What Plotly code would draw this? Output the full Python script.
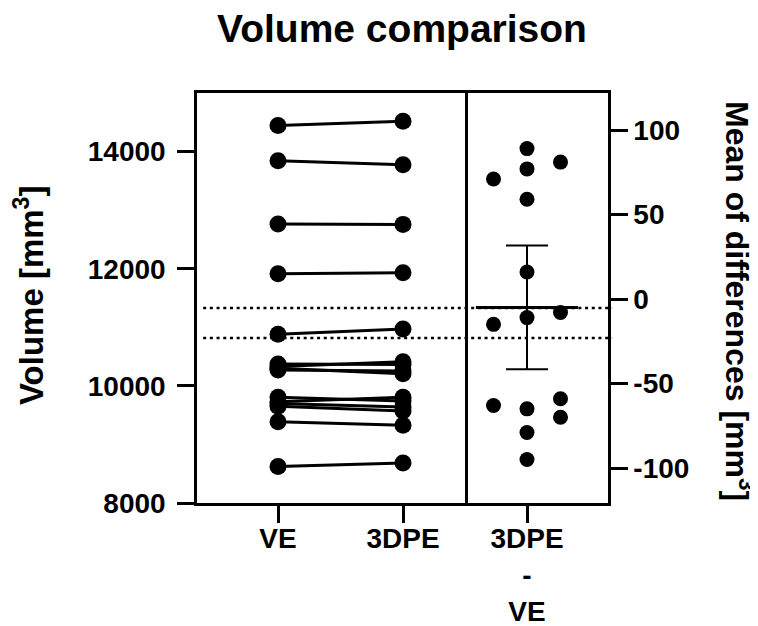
import plotly.graph_objects as go

# ---------------- data ----------------
categories = ["VE", "3DPE"]
ve_values = [14445, 13845, 12765, 11915, 10880, 10375, 10330, 10300, 10270,
             9805, 9730, 9700, 9650, 9388, 8625]
dpe_values = [14516, 13775, 12757, 11931, 10969, 10364, 10411, 10205, 10255,
              9740, 9807, 9637, 9571, 9329, 8684]

diff_label = "3DPE<br>-<br>VE"
diff_values = [89, 77, 71, 81, 59, 16, -11, -15, -8, -63, -65, -59, -70, -79, -95]
diff_columns = [0, 0, -1, 1, 0, 0, 0, -1, 1, -1, 0, 1, 1, 0, 0]
diff_mean = -5.0
diff_ci_upper = 31.7
diff_ci_lower = -41.5
ref_lines = [-5.3, -23.0]

left_ticks = [8000, 10000, 12000, 14000]
left_ticktext = ["8000", "10000", "12000", "14000"]
right_ticks = [-100, -50, 0, 50, 100]
right_ticktext = ["-100", "-50", "0", "50", "100"]

# ---------------- figure ----------------
FONT = "Liberation Sans, Arial, sans-serif"
W, H = 750, 618   # page body adds an 8px margin
L, R, T, B = 189, 150, 85, 123
PW, PH = W - L - R, H - T - B

fig = go.Figure()

xpos = list(range(len(categories)))
for v, d in zip(ve_values, dpe_values):
    fig.add_trace(go.Scatter(
        x=xpos, y=[v, d], mode="lines+markers",
        line=dict(color="black", width=3),
        marker=dict(color="black", size=17),
        xaxis="x", yaxis="y", showlegend=False, hoverinfo="skip"))

fig.add_trace(go.Scatter(
    x=diff_columns, y=diff_values, mode="markers",
    marker=dict(color="black", size=15),
    xaxis="x2", yaxis="y2", showlegend=False))

# error bar (95% CI)
fig.add_trace(go.Scatter(
    x=[0], y=[diff_mean], mode="markers",
    marker=dict(color="rgba(0,0,0,0)", size=1),
    error_y=dict(type="data", symmetric=False,
                 array=[diff_ci_upper - diff_mean],
                 arrayminus=[diff_mean - diff_ci_lower],
                 color="black", thickness=2, width=21),
    xaxis="x2", yaxis="y2", showlegend=False))
# mean line
fig.add_trace(go.Scatter(
    x=[0], y=[diff_mean], mode="markers",
    marker=dict(symbol="line-ew", size=73, color="black",
                line=dict(color="black", width=3)),
    xaxis="x2", yaxis="y2", showlegend=False))

for r in ref_lines:
    fig.add_shape(type="line", xref="paper", yref="y2",
                  x0=0.015, x1=1.01, y0=r, y1=r, layer="below",
                  line=dict(color="black", width=2.5, dash="3px,3.7px"))

split = (465 - 197) / 411
tickfont = dict(family=FONT, size=28, color="black", weight="bold")
axis_common = dict(showline=True, linecolor="black", linewidth=2.5,
                   ticks="outside", ticklen=17, tickwidth=2.5,
                   tickcolor="black", showgrid=False, zeroline=False,
                   automargin=False, tickfont=tickfont)

fig.update_layout(
    width=W, height=H,
    margin=dict(l=L, r=R, t=T, b=B),
    paper_bgcolor="white", plot_bgcolor="white",
    title=dict(text="Volume comparison", x=394 / W, y=1 - 20 / H,
               xanchor="center", yanchor="middle", xref="container",
               yref="container",
               font=dict(family=FONT, size=39, color="black", weight="bold")),
    xaxis=dict(domain=[0, split], range=[-0.648, 1.496], mirror=True,
               tickvals=xpos, ticktext=categories, anchor="y",
               ticklabelstandoff=-8, **axis_common),
    yaxis=dict(range=[8000, 15000], tickvals=left_ticks,
               ticktext=left_ticktext, anchor="x", mirror=True,
               ticklabelstandoff=6, **axis_common),
    xaxis2=dict(domain=[split, 1], range=[-1.851, 2.418], mirror=True,
                tickvals=[0], ticktext=[diff_label], anchor="y2",
                ticklabelstandoff=-8, **axis_common),
    yaxis2=dict(range=[-120.7, 121.9], tickvals=right_ticks,
                ticktext=right_ticktext, anchor="x2", mirror=False,
                side="right", **axis_common),
)

fig.add_annotation(text="Volume [mm<sup>3</sup>]", xref="paper", yref="paper",
                   x=(21 - L) / PW, y=(H - B - 288) / PH, textangle=-90,
                   showarrow=False, xanchor="center", yanchor="middle",
                   font=dict(family=FONT, size=33, color="black", weight="bold"))
fig.add_annotation(text="Mean of differences [mm<sup>3</sup>]", xref="paper",
                   yref="paper", x=(731 - L) / PW, y=(H - B - 293) / PH,
                   textangle=90, showarrow=False, xanchor="center",
                   yanchor="middle",
                   font=dict(family=FONT, size=32, color="black", weight="bold"))

fig.write_html("out.html")
